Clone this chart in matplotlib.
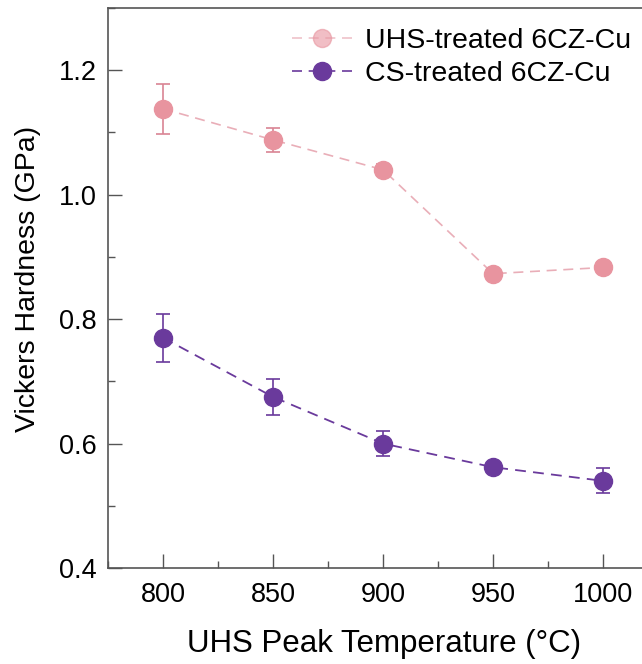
import matplotlib
matplotlib.use("Agg")
import matplotlib.pyplot as plt
from matplotlib.ticker import MultipleLocator
from matplotlib.lines import Line2D

plt.rcParams['font.family'] = ['Liberation Sans', 'DejaVu Sans']

temps = [800, 850, 900, 950, 1000]
uhs_vals = [1.138, 1.088, 1.040, 0.873, 0.883]
uhs_err = [0.040, 0.019, 0.010, 0.007, 0.008]
cs_vals = [0.770, 0.675, 0.600, 0.562, 0.540]
cs_err = [0.039, 0.029, 0.020, 0.005, 0.020]
labels = ['UHS-treated 6CZ-Cu', 'CS-treated 6CZ-Cu']

pink = '#E8949F'
pink_line = '#E49AA6'
purple = '#6A3A9C'
dash = (0, (6, 4))

fig = plt.figure(figsize=(6.42, 6.64), dpi=100)
ax = fig.add_axes([108/642, 96/664, 1.0 - 108/642, (568-8)/664])

ax.plot(temps, uhs_vals, color=pink_line, linestyle=dash, linewidth=1.2, alpha=0.8, zorder=2)
ax.errorbar(temps, uhs_vals, yerr=uhs_err, color=pink, ecolor='#D98494',
            marker='o', markersize=13, linestyle='none',
            capsize=5, elinewidth=1.2, capthick=1.2, zorder=3)
ax.plot(temps, cs_vals, color=purple, linestyle=dash, linewidth=1.3, zorder=2)
ax.errorbar(temps, cs_vals, yerr=cs_err, color=purple, ecolor=purple,
            marker='o', markersize=13, linestyle='none',
            capsize=5, elinewidth=1.2, capthick=1.2, zorder=3)

ax.set_xlim(775, 1017.7)
ax.set_ylim(0.4, 1.3)
ax.set_xticks(temps)
ax.set_yticks([0.4, 0.6, 0.8, 1.0, 1.2])
ax.xaxis.set_minor_locator(MultipleLocator(25))
ax.yaxis.set_minor_locator(MultipleLocator(0.1))
ax.tick_params(which='both', direction='in', colors='#555555', labelcolor='black',
               labelsize=19.5, top=False, right=False)
ax.tick_params(which='major', length=10, width=1)
ax.tick_params(which='minor', length=5, width=1)
ax.tick_params(axis='x', pad=10)
ax.tick_params(axis='y', pad=8)
for side in ['left', 'bottom', 'top']:
    ax.spines[side].set_color('#555555')
    ax.spines[side].set_linewidth(1.2)
ax.spines['right'].set_visible(False)

ax.set_xlabel('UHS Peak Temperature (°C)', fontsize=22.5, labelpad=15)
ax.set_ylabel('Vickers Hardness (GPa)', fontsize=20.5, labelpad=13)
ax.xaxis.label.set_x(0.517)
ax.yaxis.label.set_y(0.517)

handles = [
    Line2D([], [], color=pink_line, alpha=0.6, linestyle=dash, linewidth=1.2,
           marker='o', markersize=13, markerfacecolor=pink, markeredgecolor=pink),
    Line2D([], [], color=purple, linestyle=dash, linewidth=1.2,
           marker='o', markersize=13, markerfacecolor=purple, markeredgecolor=purple),
]
fig.legend(handles, labels, loc='upper left', fontsize=20.5, frameon=False,
           handlelength=2.1, handletextpad=0.45, borderpad=0, borderaxespad=0,
           labelspacing=0.23, bbox_to_anchor=(292/642, 1 - 28/664),
           bbox_transform=fig.transFigure)

fig.savefig('out.png', dpi=100)
